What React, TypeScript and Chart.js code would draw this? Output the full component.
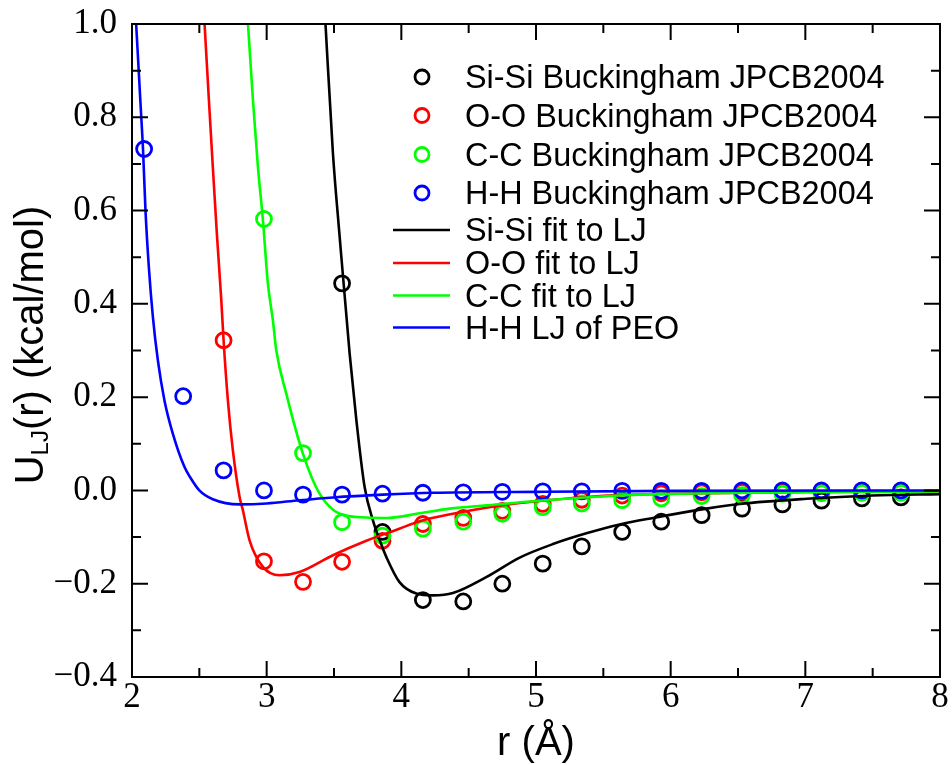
import { useEffect, useRef } from "react";
import { Chart, registerables } from "chart.js";

Chart.register(...registerables);

// Separations (Å) at which the Buckingham potentials are tabulated
const R_BUCK = [2.09, 2.38, 2.68, 2.98, 3.27, 3.56, 3.86, 4.16, 4.46, 4.75, 5.05, 5.34, 5.64, 5.93, 6.23, 6.53, 6.83, 7.12, 7.42, 7.71];

// Buckingham potentials, kcal/mol (null = above the plotted range)
const SI_SI_BUCK = [null, null, null, null, null, 0.444, -0.089, -0.235, -0.238, -0.200, -0.157, -0.120, -0.089, -0.067, -0.053, -0.039, -0.030, -0.022, -0.017, -0.015];
const O_O_BUCK = [null, null, 0.322, -0.152, -0.196, -0.153, -0.108, -0.072, -0.059, -0.044, -0.029, -0.020, -0.011, -0.006, -0.004, -0.003, -0.002, -0.002, -0.001, -0.001];
const C_C_BUCK = [null, null, null, 0.582, 0.080, -0.068, -0.097, -0.082, -0.067, -0.050, -0.036, -0.028, -0.021, -0.017, -0.012, -0.010, -0.007, -0.006, -0.005, -0.005];
const H_H_BUCK = [0.732, 0.202, 0.043, 0.000, -0.009, -0.009, -0.007, -0.005, -0.004, -0.003, -0.002, -0.002, -0.001, -0.001, -0.001, 0.0, 0.0, 0.0, 0.0, 0.0];

// Lennard-Jones curves
const SI_SI_FIT_R = [3.433, 3.492, 3.542, 3.616, 3.666, 3.727, 3.789, 3.85, 3.889, 3.985, 4.111, 4.235, 4.383, 4.63, 4.879, 5.126, 5.374, 5.622, 5.869, 6.266, 6.513, 7.009, 7.5, 8.0];
const SI_SI_FIT_U = [1.02, 0.723, 0.544, 0.294, 0.151, 0.008, -0.064, -0.115, -0.143, -0.196, -0.221, -0.225, -0.220, -0.186, -0.144, -0.115, -0.092, -0.073, -0.059, -0.039, -0.029, -0.018, -0.011, -0.008];

const O_O_FIT_R = [2.535, 2.571, 2.6, 2.63, 2.663, 2.68, 2.712, 2.749, 2.799, 2.823, 2.873, 2.972, 3.096, 3.244, 3.492, 3.74, 3.985, 4.136, 4.383, 4.63, 4.879, 5.126, 5.374, 5.62, 6.0, 7.0, 8.0];
const O_O_FIT_U = [1.02, 0.837, 0.694, 0.551, 0.408, 0.322, 0.193, 0.086, -0.014, -0.042, -0.107, -0.164, -0.182, -0.175, -0.139, -0.108, -0.082, -0.066, -0.050, -0.037, -0.027, -0.020, -0.014, -0.010, -0.007, -0.003, -0.002];

const C_C_FIT_R = [2.857, 2.898, 2.935, 2.972, 3.009, 3.046, 3.071, 3.146, 3.269, 3.393, 3.542, 3.74, 3.9, 4.136, 4.36, 4.63, 5.126, 5.62, 5.92, 7.0, 8.0];
const C_C_FIT_U = [1.02, 0.837, 0.694, 0.580, 0.444, 0.365, 0.301, 0.207, 0.079, -0.007, -0.050, -0.058, -0.059, -0.049, -0.039, -0.032, -0.020, -0.011, -0.008, -0.004, -0.002];

const H_H_LJ_R = [2.027, 2.065, 2.082, 2.1, 2.125, 2.155, 2.192, 2.241, 2.303, 2.39, 2.43, 2.5, 2.6, 2.8, 3.0, 3.245, 3.492, 3.863, 4.235, 5.0, 6.0, 8.0];
const H_H_LJ_U = [1.02, 0.82, 0.730, 0.601, 0.479, 0.372, 0.279, 0.193, 0.122, 0.050, 0.029, 0.000, -0.019, -0.030, -0.028, -0.021, -0.015, -0.009, -0.005, -0.003, -0.001, 0.0];

const SERIF = "'Liberation Serif', 'Times New Roman', serif";
const SANS = "'Liberation Sans', Arial, sans-serif";

type Pt = { x: number; y: number };
const toPoints = (xs: number[], ys: (number | null)[]): Pt[] =>
  xs
    .map((x, i) => ({ x, y: ys[i] }))
    .filter((p) => p.y !== null) as Pt[];

const markerSet = (label: string, color: string, xs: number[], ys: (number | null)[], order: number) => ({
  label,
  data: toPoints(xs, ys),
  showLine: false,
  pointStyle: "circle",
  pointRadius: 7.5,
  pointBorderWidth: 2.8,
  pointBorderColor: color,
  pointBackgroundColor: "rgba(0,0,0,0)",
  borderColor: color,
  order,
});

const lineSet = (label: string, color: string, xs: number[], ys: number[], order: number) => ({
  label,
  data: toPoints(xs, ys),
  showLine: true,
  borderColor: color,
  borderWidth: 2.6,
  pointRadius: 0,
  cubicInterpolationMode: "monotone",
  fill: false,
  order,
});

// Inward tick marks on all four sides, the plot frame, legend and axis titles
const decorations = {
  id: "decorations",
  afterDraw(chart: any) {
    const { ctx, chartArea: a, scales } = chart;
    const xs = scales.x;
    const ys = scales.y;
    ctx.save();
    ctx.strokeStyle = "#000";
    ctx.lineWidth = 2;
    ctx.lineCap = "butt";

    ctx.beginPath();
    for (let k = 0; k <= 12; k++) {
      const v = 2 + k * 0.5;
      const len = k % 2 === 0 ? 16 : 9;
      const px = xs.getPixelForValue(v);
      ctx.moveTo(px, a.bottom);
      ctx.lineTo(px, a.bottom - len);
      ctx.moveTo(px, a.top);
      ctx.lineTo(px, a.top + len);
    }
    for (let k = 0; k <= 14; k++) {
      const v = -0.4 + k * 0.1;
      const len = k % 2 === 0 ? 16 : 9;
      const py = ys.getPixelForValue(v);
      ctx.moveTo(a.left, py);
      ctx.lineTo(a.left + len, py);
      ctx.moveTo(a.right, py);
      ctx.lineTo(a.right - len, py);
    }
    ctx.stroke();
    ctx.strokeRect(a.left, a.top, a.right - a.left, a.bottom - a.top);

    // Legend
    const rowsY = [77, 115.5, 154.5, 193, 230, 263, 295.5, 327.5];
    ctx.font = `32.4px ${SANS}`;
    ctx.textAlign = "left";
    ctx.textBaseline = "alphabetic";
    chart.data.datasets.forEach((ds: any, i: number) => {
      const y = rowsY[i];
      const color = ds.borderColor;
      ctx.strokeStyle = color;
      ctx.lineWidth = 2.6;
      if (ds.showLine) {
        ctx.beginPath();
        ctx.moveTo(393, y);
        ctx.lineTo(450, y);
        ctx.stroke();
      } else {
        ctx.beginPath();
        ctx.lineWidth = 2.8;
        ctx.arc(422, y, 7, 0, Math.PI * 2);
        ctx.stroke();
      }
      ctx.fillStyle = "#000";
      ctx.fillText(ds.label, 465, y + 11);
    });

    // x-axis title
    ctx.fillStyle = "#000";
    ctx.font = `40px ${SANS}`;
    ctx.textAlign = "center";
    ctx.fillText("r (Å)", (a.left + a.right) / 2, 755);

    // y-axis title with subscript
    const main = `40px ${SANS}`;
    const sub = `24px ${SANS}`;
    ctx.font = main;
    const wU = ctx.measureText("U").width;
    const wRest = ctx.measureText("(r) (kcal/mol)").width;
    ctx.font = sub;
    const wSub = ctx.measureText("LJ").width;
    const total = wU + wSub + wRest;
    ctx.translate(43, 345);
    ctx.rotate(-Math.PI / 2);
    ctx.textAlign = "left";
    let x0 = -total / 2;
    ctx.font = main;
    ctx.fillText("U", x0, 0);
    x0 += wU;
    ctx.font = sub;
    ctx.fillText("LJ", x0, 5);
    x0 += wSub;
    ctx.font = main;
    ctx.fillText("(r) (kcal/mol)", x0, 0);
    ctx.restore();
  },
};

export default function App() {
  const canvasRef = useRef<HTMLCanvasElement | null>(null);

  useEffect(() => {
    const canvas = canvasRef.current;
    if (!canvas) return;
    const chart = new Chart(canvas, {
      type: "scatter",
      data: {
        datasets: [
          markerSet("Si-Si Buckingham JPCB2004", "#000000", R_BUCK, SI_SI_BUCK, 8),
          markerSet("O-O Buckingham JPCB2004", "#ff0000", R_BUCK, O_O_BUCK, 7),
          markerSet("C-C Buckingham JPCB2004", "#00ff00", R_BUCK, C_C_BUCK, 6),
          markerSet("H-H Buckingham JPCB2004", "#0000ff", R_BUCK, H_H_BUCK, 5),
          lineSet("Si-Si fit to LJ", "#000000", SI_SI_FIT_R, SI_SI_FIT_U, 4),
          lineSet("O-O fit to LJ", "#ff0000", O_O_FIT_R, O_O_FIT_U, 3),
          lineSet("C-C fit to LJ", "#00ff00", C_C_FIT_R, C_C_FIT_U, 2),
          lineSet("H-H LJ of PEO", "#0000ff", H_H_LJ_R, H_H_LJ_U, 1),
        ] as any,
      },
      options: {
        animation: false,
        responsive: false,
        devicePixelRatio: 1,
        events: [],
        layout: { padding: { left: 0, right: 12, top: 24, bottom: 0 } },
        plugins: {
          legend: { display: false },
          tooltip: { enabled: false },
        },
        scales: {
          x: {
            type: "linear",
            min: 2,
            max: 8,
            grid: { display: false, drawTicks: false },
            border: { display: false },
            ticks: {
              stepSize: 1,
              autoSkip: false,
              maxRotation: 0,
              padding: 3,
              color: "#000",
              font: { family: SERIF, size: 35, lineHeight: 1 },
            },
            afterFit: (s: any) => {
              s.height = 88;
              s.paddingLeft = 0;
              s.paddingRight = 0;
            },
          },
          y: {
            type: "linear",
            min: -0.4,
            max: 1.0,
            grid: { display: false, drawTicks: false },
            border: { display: false },
            ticks: {
              stepSize: 0.2,
              autoSkip: false,
              padding: 15,
              color: "#000",
              font: { family: SERIF, size: 35, lineHeight: 1 },
              callback: (v: any) => {
                const n = Number(v);
                const s = (Math.abs(n) < 1e-9 ? 0 : n).toFixed(1);
                return s.replace("-", "\u2212");
              },
            },
            afterFit: (s: any) => {
              s.width = 132;
              s.paddingTop = 0;
              s.paddingBottom = 0;
            },
          },
        },
      } as any,
      plugins: [decorations],
    });
    return () => chart.destroy();
  }, []);

  return (
    <div style={{ position: "absolute", left: 0, top: 0, width: 952, height: 765, background: "#fff" }}>
      <canvas ref={canvasRef} width={952} height={765} style={{ display: "block" }} />
    </div>
  );
}
